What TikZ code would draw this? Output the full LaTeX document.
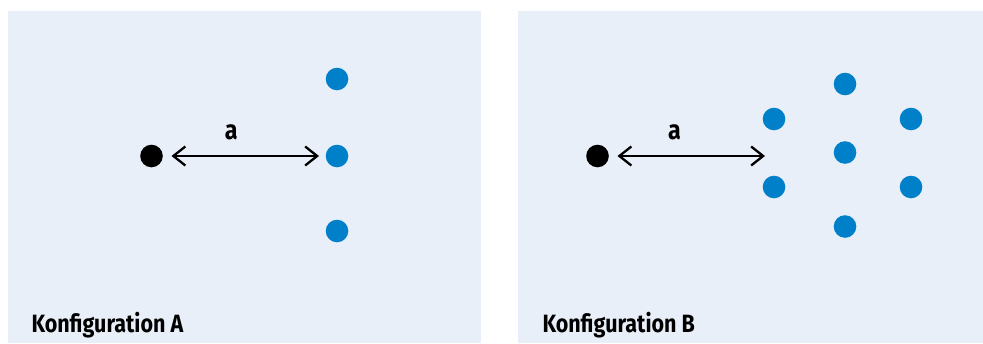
\documentclass[tikz,border=0pt]{standalone}
\usepackage{fontspec}
\setmainfont{Fira Sans}
\usetikzlibrary{
  arrows.meta,
  positioning
}
\definecolor{feldblau}{RGB}{232,239,248}
\definecolor{punktblau}{RGB}{0,128,200}
\newcommand{\schmal}[1]{\scalebox{0.86}[1]{#1}}
\tikzset{
>={Straight Barb[length=12pt,width=19pt]},
punkt/.style={circle, fill=punktblau, minimum size=22.6pt, inner sep=0pt},
quelle/.style={punkt, fill=black},
titel/.style={font=\fontsize{25}{25}\selectfont\bfseries, anchor=base west},
abstand/.style={<->, line width=2.3pt, shorten <=8.5pt, shorten >=6.5pt}
}
\begin{document}
\begin{tikzpicture}[x=1pt, y=-1pt]
 \useasboundingbox (0,0) rectangle (983,343);
 \fill[feldblau] (8,11) rectangle (481,343);
 \fill[feldblau] (518,11) rectangle (983,343);
 % Konfiguration A
 \node[quelle] (qA) at (151.5,156) {};
 \node[punkt] (a1) at (337,79) {};
 \node[punkt] (a2) at (337,156) {};
 \node[punkt] (a3) at (337,231) {};
 \draw[abstand] (qA) -- node[pos=.42, anchor=base, yshift=17pt, font=\fontsize{27}{27}\selectfont\bfseries] {\schmal{a}} (a2);
 \node[titel] (tA) at (28,332) {\schmal{Konfiguration A}};
 % Konfiguration B
 \node[quelle] (qB) at (597.5,156) {};
 \node[punkt] (b1) at (845,84) {};
 \node[punkt] (b2) at (774,119) {};
 \node[punkt] (b3) at (911,119) {};
 \node[punkt] (b4) at (845,152.5) {};
 \node[punkt] (b5) at (774,187) {};
 \node[punkt] (b6) at (911,187) {};
 \node[punkt] (b7) at (845,226.5) {};
 \coordinate (ende) at (765,156);
 \draw[abstand, shorten >=0pt] (qB) -- node[pos=.42, anchor=base, yshift=17pt, font=\fontsize{27}{27}\selectfont\bfseries] {\schmal{a}} (ende);
 \node[titel] (tB) at (539,332) {\schmal{Konfiguration B}};
\end{tikzpicture}
\end{document}
